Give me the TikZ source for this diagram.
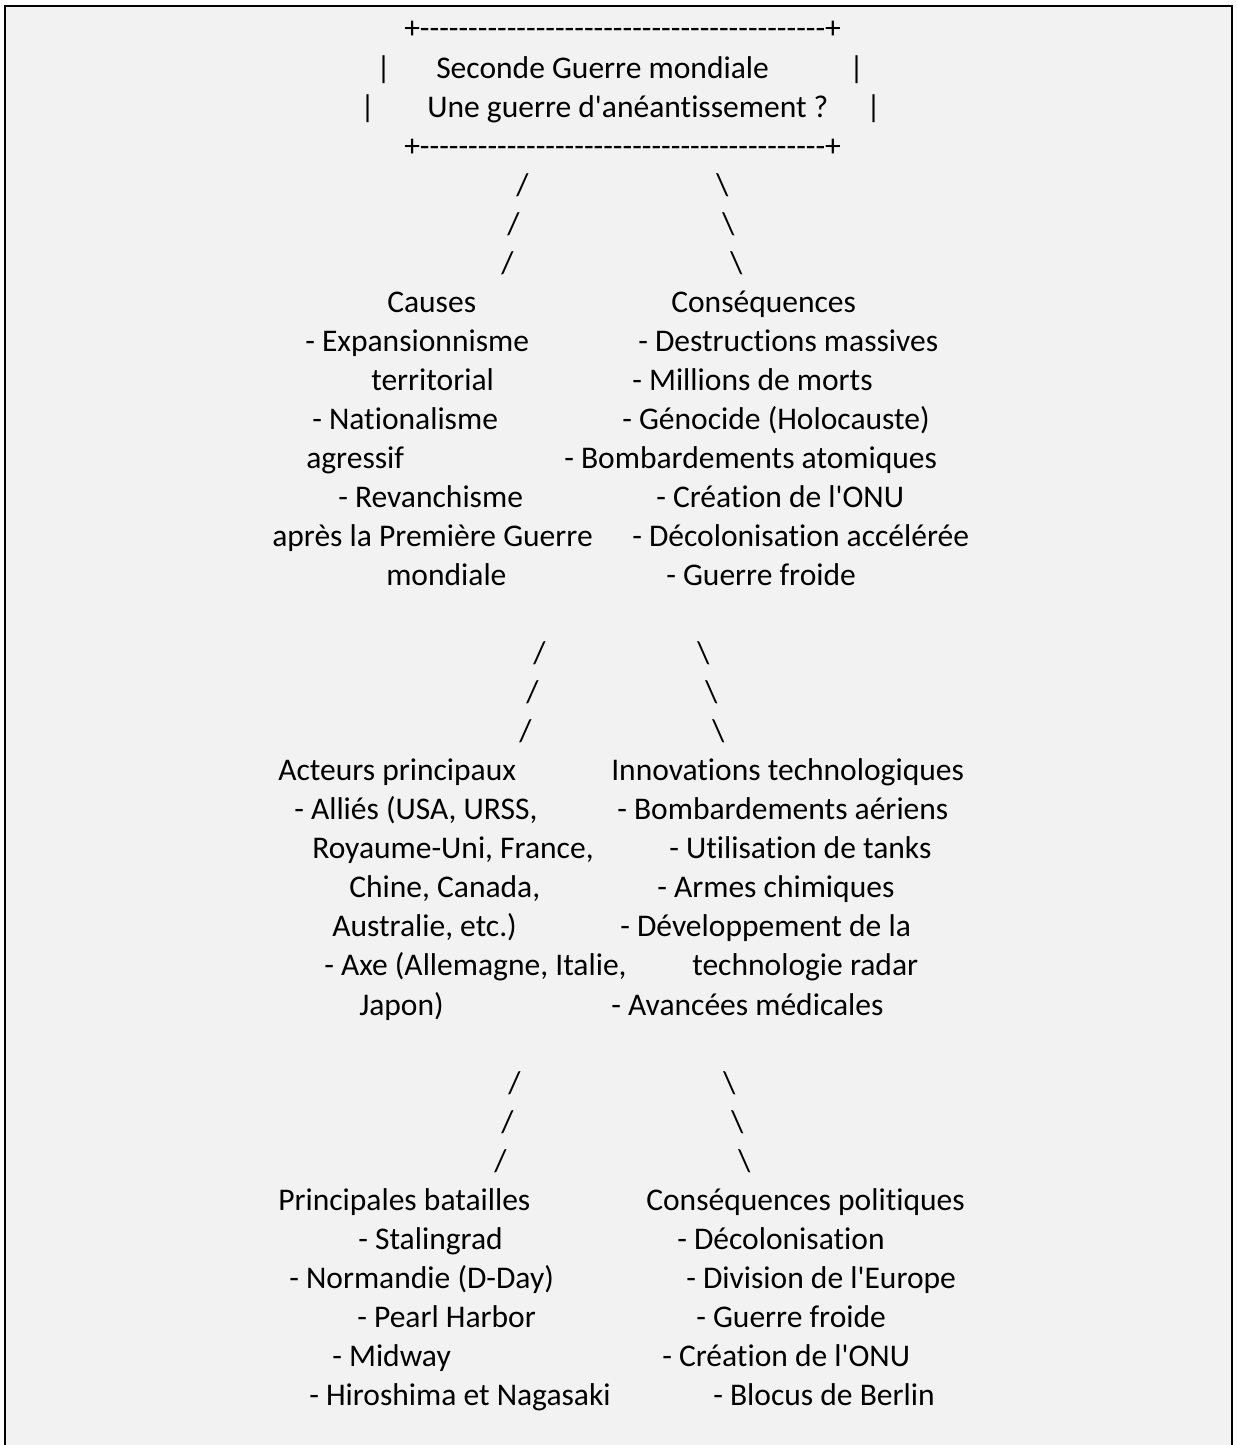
\documentclass[tikz,border=0pt]{standalone}
\usepackage{fontspec}
\newfontfamily\artfont{Carlito}[Ligatures=CommonOff]
\definecolor{panel}{HTML}{F2F2F2}
\tikzset{
  x=0.75pt, y=-0.75pt,
  txt/.style={font=\artfont\fontsize{23.65}{28}\selectfont, inner sep=0pt, anchor=base west, text=black},
  frame/.style={draw=black, line width=1.5pt},
}
\newcommand\myrep[2]{\ifnum#1>0 #2\expandafter\myrep\expandafter{\the\numexpr#1-1\relax}{#2}\fi}
\newcommand\T[4]{\node[txt] (#1) at (#2,{39+39.04*#3}) {#4};}
\begin{document}
\begin{tikzpicture}
\useasboundingbox (0,0) rectangle (1237,1445);
\fill[panel] (5,6) rectangle (1232,1445);
\draw[frame] (5,1445) -- (5,6) -- (1232,6) -- (1232,1445);
\draw[line width=2.2pt] (4,6) -- (1233,6);
% title box
\T{boxtop}{404}{0}{+\myrep{42}{-}+}
\T{bl1}{376}{1}{|}
\T{title1}{436}{1}{Seconde Guerre mondiale}
\T{br1}{849}{1}{|}
\T{bl2}{360}{2}{|}
\T{title2}{427}{2}{Une guerre d'anéantissement ?}
\T{br2}{866}{2}{|}
\T{boxbot}{404}{3}{+\myrep{42}{-}+}
% branches 1
\T{s1a}{516}{4}{/}
\T{b1a}{716}{4}{\textbackslash}
\T{s1b}{507}{5}{/}
\T{b1b}{722}{5}{\textbackslash}
\T{s1c}{501}{6}{/}
\T{b1c}{730}{6}{\textbackslash}
% causes / consequences
\T{causes}{387}{7}{Causes}
\T{cons}{671}{7}{Conséquences}
\T{c1}{305}{8}{- Expansionnisme}
\T{q1}{638}{8}{- Destructions massives}
\T{c2}{371}{9}{territorial}
\T{q2}{632}{9}{- Millions de morts}
\T{c3}{312}{10}{- Nationalisme}
\T{q3}{622}{10}{- Génocide (Holocauste)}
\T{c4}{306}{11}{agressif}
\T{q4}{564}{11}{- Bombardements atomiques}
\T{c5}{338}{12}{- Revanchisme}
\T{q5}{656}{12}{- Création de l'ONU}
\T{c6}{272}{13}{après la Première Guerre}
\T{q6}{632}{13}{- Décolonisation accélérée}
\T{c7}{386}{14}{mondiale}
\T{q7}{666}{14}{- Guerre froide}
% branches 2
\T{s2a}{533}{16}{/}
\T{b2a}{697}{16}{\textbackslash}
\T{s2b}{526}{17}{/}
\T{b2b}{705}{17}{\textbackslash}
\T{s2c}{519}{18}{/}
\T{b2c}{712}{18}{\textbackslash}
% actors / innovations
\T{act}{278}{19}{Acteurs principaux}
\T{inn}{611}{19}{Innovations technologiques}
\T{a1}{294}{20}{- Alliés (USA, URSS,}
\T{i1}{617}{20}{- Bombardements aériens}
\T{a2}{312}{21}{Royaume-Uni, France,}
\T{i2}{669}{21}{- Utilisation de tanks}
\T{a3}{349}{22}{Chine, Canada,}
\T{i3}{657}{22}{- Armes chimiques}
\T{a4}{332}{23}{Australie, etc.)}
\T{i4}{620}{23}{- Développement de la}
\T{a5}{324}{24}{- Axe (Allemagne, Italie,}
\T{i5}{692}{24}{technologie radar}
\T{a6}{359}{25}{Japon)}
\T{i6}{611}{25}{- Avancées médicales}
% branches 3
\T{s3a}{508}{27}{/}
\T{b3a}{723}{27}{\textbackslash}
\T{s3b}{501}{28}{/}
\T{b3b}{731}{28}{\textbackslash}
\T{s3c}{494}{29}{/}
\T{b3c}{738}{29}{\textbackslash}
% battles / political consequences
\T{bat}{278}{30}{Principales batailles}
\T{pol}{646}{30}{Conséquences politiques}
\T{t1}{358}{31}{- Stalingrad}
\T{p1}{677}{31}{- Décolonisation}
\T{t2}{289}{32}{- Normandie (D-Day)}
\T{p2}{686}{32}{- Division de l'Europe}
\T{t3}{357}{33}{- Pearl Harbor}
\T{p3}{696}{33}{- Guerre froide}
\T{t4}{332}{34}{- Midway}
\T{p4}{662}{34}{- Création de l'ONU}
\T{t5}{309}{35}{- Hiroshima et Nagasaki}
\T{p5}{713}{35}{- Blocus de Berlin}
\end{tikzpicture}
\end{document}
